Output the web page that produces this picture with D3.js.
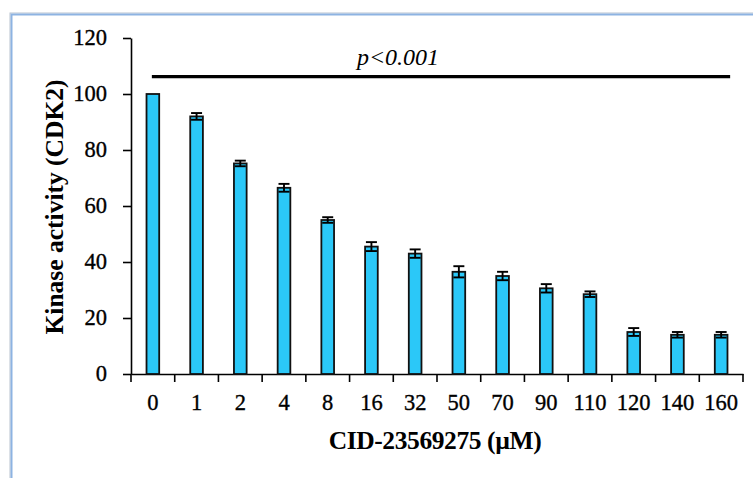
<!DOCTYPE html>
<html><head><meta charset="utf-8">
<script src="https://cdn.jsdelivr.net/npm/d3@7"></script>
<style>
html,body{margin:0;padding:0;background:#fff;}
svg{display:block;}
text{font-family:"Liberation Serif","Times New Roman",serif;fill:#000;}
</style></head>
<body>
<script>
const categories = ["0","1","2","4","8","16","32","50","70","90","110","120","140","160"];
const values     = [100, 92, 75.2, 66.5, 55, 45.5, 43, 36.5, 35, 30.6, 28.5, 15, 14, 14];
const errors     = [0, 1.2, 1.0, 1.4, 1.0, 1.6, 1.5, 2.0, 1.5, 1.5, 1.0, 1.4, 1.0, 1.0];
const yTicks     = [0, 20, 40, 60, 80, 100, 120];
const sigLabel   = "p<0.001";
const sigLevel   = 106.2;

(function () {
const W = 753, H = 478;
const svg = d3.select("body").append("svg").attr("width", W).attr("height", H);

// frame
svg.append("rect").attr("x", 10).attr("y", 13).attr("width", W + 10).attr("height", H + 10)
  .attr("fill", "none").attr("stroke", "#b9c3cf").attr("stroke-width", 1);
svg.append("rect").attr("x", 11.5).attr("y", 14.5).attr("width", W + 10).attr("height", H + 10)
  .attr("fill", "none").attr("stroke", "#8DB3E2").attr("stroke-width", 2);

const mLeft = 131, mRight = 743, mTop = 38, mBottom = 374;
const x = d3.scaleBand().domain(categories).range([mLeft, mRight]).paddingInner(0.71).paddingOuter(0.355);
const y = d3.scaleLinear().domain([0, 120]).range([mBottom, mTop]);

const g = svg.append("g");

// y axis
const yAxis = g.append("g").attr("transform", `translate(${mLeft},0)`)
  .call(d3.axisLeft(y).tickValues(yTicks).tickSize(8).tickPadding(16).tickSizeOuter(0));
yAxis.select(".domain").attr("stroke", "#000").attr("stroke-width", 1.6);
yAxis.selectAll(".tick line").attr("stroke", "#000").attr("stroke-width", 1.6);
yAxis.selectAll(".tick text").style("font-size", "22.5px").attr("dy", "0.28em")
  .attr("stroke", "#000").attr("stroke-width", 0.35);

// x axis
const xAxis = g.append("g").attr("transform", `translate(0,${mBottom})`)
  .call(d3.axisBottom(x).tickSize(0).tickPadding(21).tickSizeOuter(0));
xAxis.select(".domain").attr("stroke", "#000").attr("stroke-width", 1.6);
xAxis.selectAll(".tick text").style("font-size", "22.5px").attr("dy", "0.66em")
  .attr("stroke", "#000").attr("stroke-width", 0.35);
const step = x.step();
const boundaries = categories.map((c) => x(c) - step * x.paddingInner() / 2).concat([mRight]);
g.append("g").selectAll("line").data(boundaries).join("line")
  .attr("x1", d => d).attr("x2", d => d).attr("y1", mBottom).attr("y2", mBottom + 8)
  .attr("stroke", "#000").attr("stroke-width", 1.6);

// bars
g.append("g").selectAll("rect").data(values).join("rect")
  .attr("x", (d, i) => x(categories[i]))
  .attr("y", d => y(d))
  .attr("width", x.bandwidth())
  .attr("height", d => mBottom - y(d))
  .attr("fill", "#2BC8F8").attr("stroke", "#111").attr("stroke-width", 1.8);

// error bars
const eb = g.append("g").attr("stroke", "#000").attr("stroke-width", 1.9);
values.forEach((v, i) => {
  if (!errors[i]) return;
  const cx = x(categories[i]) + x.bandwidth() / 2;
  const cap = 5.5;
  eb.append("line").attr("x1", cx).attr("x2", cx).attr("y1", y(v + errors[i])).attr("y2", y(v - errors[i]));
  eb.append("line").attr("x1", cx - cap).attr("x2", cx + cap).attr("y1", y(v + errors[i])).attr("y2", y(v + errors[i]));
  eb.append("line").attr("x1", cx - cap).attr("x2", cx + cap).attr("y1", y(v - errors[i])).attr("y2", y(v - errors[i]));
});

// significance line
const sx1 = x(categories[0]) + x.bandwidth() / 2 - 1;
const sx2 = x(categories[categories.length - 1]) + x.bandwidth() / 2 + 9;
g.append("line").attr("x1", sx1).attr("x2", sx2).attr("y1", y(sigLevel)).attr("y2", y(sigLevel))
  .attr("stroke", "#000").attr("stroke-width", 3.2);
g.append("text").attr("x", 398).attr("y", y(sigLevel) - 12).attr("text-anchor", "middle")
  .style("font-size", "24px").style("font-style", "italic").text(sigLabel);

// axis titles
g.append("text").attr("x", (mLeft + mRight) / 2 - 2).attr("y", 449).attr("text-anchor", "middle")
  .style("font-size", "25.5px").style("font-weight", "bold").style("letter-spacing", "-0.4px")
  .text("CID-23569275 (µM)");
g.append("text").attr("transform", `translate(63,${(mTop + mBottom) / 2 + 1}) rotate(-90)`)
  .attr("text-anchor", "middle")
  .style("font-size", "25.5px").style("font-weight", "bold")
  .text("Kinase activity (CDK2)");
})();
</script>
</body></html>
